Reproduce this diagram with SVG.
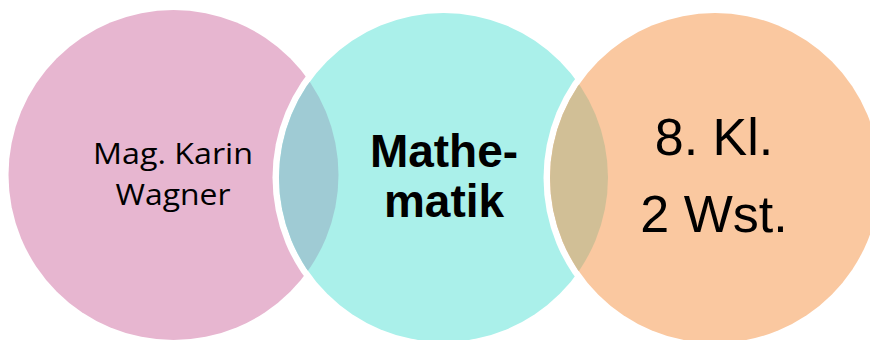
<svg xmlns="http://www.w3.org/2000/svg" width="870" height="340" viewBox="0 0 870 340">
  <style>
    .halo { fill: #FFFFFF; }
    .t1 { font-family: "Open Sans", "Liberation Sans", sans-serif; font-size: 29.5px; fill: #000; text-anchor: middle; }
    .t2 { font-family: "Liberation Sans", Arial, sans-serif; font-size: 46px; font-weight: bold; fill: #000; text-anchor: middle; }
    .t3 { font-family: "Liberation Sans", Arial, sans-serif; font-size: 52px; fill: #000; text-anchor: middle; }
  </style>
  <defs>
    <clipPath id="clipTeal"><circle cx="443.5" cy="177.5" r="164.5"/></clipPath>
    <clipPath id="clipOrange"><circle cx="715" cy="178" r="165"/></clipPath>
  </defs>
  <rect width="870" height="340" fill="#FFFFFF"/>
  <g id="node-teacher">
    <circle cx="173.5" cy="175" r="165" fill="#E7B6D0"/>
  </g>
  <g id="node-subject">
    <circle class="halo" cx="443.5" cy="177.5" r="171"/>
    <circle cx="443.5" cy="177.5" r="164.5" fill="#AAF0EA"/>
    <circle cx="173.5" cy="175" r="165" fill="#9FCBD4" clip-path="url(#clipTeal)"/>
  </g>
  <g id="node-class">
    <circle class="halo" cx="715" cy="178" r="171.5"/>
    <circle cx="715" cy="178" r="165" fill="#FAC8A0"/>
    <circle cx="443.5" cy="177.5" r="164.5" fill="#D1BF96" clip-path="url(#clipOrange)"/>
  </g>
  <g id="connectors"></g>
  <g id="labels">
    <text class="t1" x="173" y="164" textLength="160" lengthAdjust="spacingAndGlyphs">Mag. Karin</text>
    <text class="t1" x="173" y="205" textLength="115" lengthAdjust="spacingAndGlyphs">Wagner</text>
    <text class="t2" x="444" y="167">Mathe-</text>
    <text class="t2" x="444" y="217">matik</text>
    <text class="t3" x="714" y="155">8. Kl.</text>
    <text class="t3" x="714" y="232">2 Wst.</text>
  </g>
</svg>
